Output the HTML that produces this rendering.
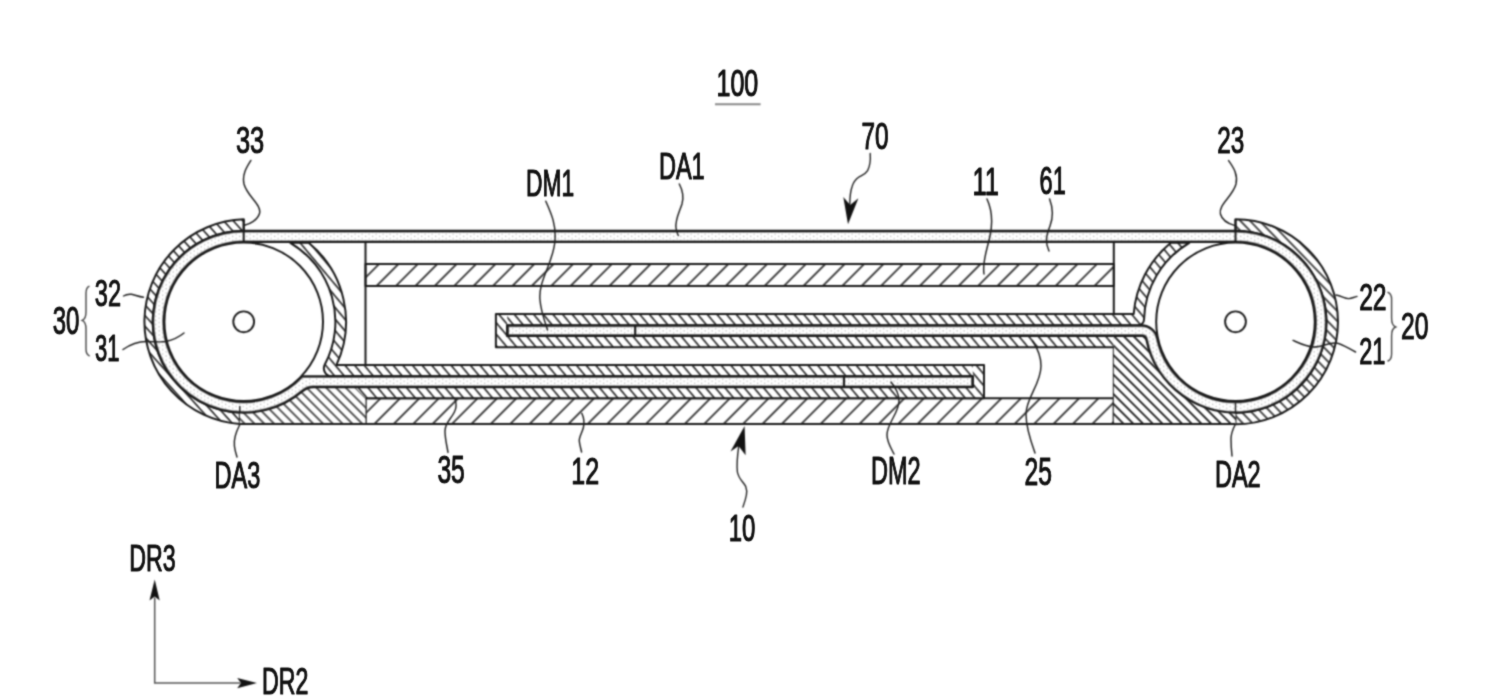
<!DOCTYPE html>
<html><head><meta charset="utf-8"><title>fig</title>
<style>html,body{margin:0;padding:0;background:#fff;}body{width:1492px;height:700px;overflow:hidden;}svg{display:block;}text{font-family:"Liberation Sans",sans-serif;fill:#111;stroke:#111;stroke-width:0.95px;stroke-linejoin:round;vector-effect:non-scaling-stroke;}</style>
</head><body>
<svg width="1492" height="700" viewBox="0 0 1492 700">
<defs>
<pattern id="hs1" patternUnits="userSpaceOnUse" width="7.39" height="10" patternTransform="rotate(-40) translate(6.22 0)"><rect width="7.39" height="10" fill="#fff"/><line x1="1" y1="-1" x2="1" y2="11" stroke="#1a1a1a" stroke-width="1.55"/></pattern>
<pattern id="hs2" patternUnits="userSpaceOnUse" width="7.39" height="10" patternTransform="rotate(-40) translate(1.75 0)"><rect width="7.39" height="10" fill="#fff"/><line x1="1" y1="-1" x2="1" y2="11" stroke="#1a1a1a" stroke-width="1.55"/></pattern>
<pattern id="hs3" patternUnits="userSpaceOnUse" width="7.39" height="10" patternTransform="rotate(-40) translate(6.31 0)"><rect width="7.39" height="10" fill="#fff"/><line x1="1" y1="-1" x2="1" y2="11" stroke="#1a1a1a" stroke-width="1.55"/></pattern>
<pattern id="hs4" patternUnits="userSpaceOnUse" width="7.39" height="10" patternTransform="rotate(-40) translate(2.2 0)"><rect width="7.39" height="10" fill="#fff"/><line x1="1" y1="-1" x2="1" y2="11" stroke="#1a1a1a" stroke-width="1.55"/></pattern>
<pattern id="hcl" patternUnits="userSpaceOnUse" width="7.17" height="10" patternTransform="rotate(-42) translate(3.15 0)"><rect width="7.17" height="10" fill="#fff"/><line x1="1" y1="-1" x2="1" y2="11" stroke="#1a1a1a" stroke-width="1.55"/></pattern>
<pattern id="hcr" patternUnits="userSpaceOnUse" width="6.94" height="10" patternTransform="rotate(-44) translate(2.2 0)"><rect width="6.94" height="10" fill="#fff"/><line x1="1" y1="-1" x2="1" y2="11" stroke="#1a1a1a" stroke-width="1.55"/></pattern>
<pattern id="hbl" patternUnits="userSpaceOnUse" width="6.92" height="10" patternTransform="rotate(-45) translate(3.96 0)"><rect width="6.92" height="10" fill="#fff"/><line x1="1" y1="-1" x2="1" y2="11" stroke="#1a1a1a" stroke-width="1.45"/></pattern>
<pattern id="hbr" patternUnits="userSpaceOnUse" width="6.89" height="10" patternTransform="rotate(-45) translate(4.67 0)"><rect width="6.89" height="10" fill="#fff"/><line x1="1" y1="-1" x2="1" y2="11" stroke="#1a1a1a" stroke-width="1.8"/></pattern>
<pattern id="hp" patternUnits="userSpaceOnUse" width="13.72" height="10" patternTransform="rotate(45) translate(0.98 0)"><rect width="13.72" height="10" fill="#fff"/><line x1="1" y1="-1" x2="1" y2="11" stroke="#1a1a1a" stroke-width="1.6"/></pattern>
<pattern id="dt" patternUnits="userSpaceOnUse" width="7" height="4.2"><rect width="7" height="4.2" fill="#fff"/><rect x="1" y="0.5" width="1.3" height="1.3" fill="#c4c4c4"/><rect x="4.5" y="2.6" width="1.3" height="1.3" fill="#c4c4c4"/></pattern>
<clipPath id="pc"><path d="M507.3 335.9 L1141.93 335.9 A4.5 4.5 0 0 1 1146.34 339.52 A90.9 90.9 0 1 0 1235.5 230.9 L243.7 230.9 A90.9 90.9 0 1 0 302.49 391.13 A17 17 0 0 1 313.48 387.1 L972.8 387.1 L972.8 376.3 L301.99 376.3 A79.8 79.8 0 1 1 243.7 242 L1235.5 242 A79.8 79.8 0 1 1 1157.39 338.13 A16 16 0 0 0 1141.73 325.4 L507.3 325.4 Z"/></clipPath>
<filter id="bl" x="0" y="0" width="100%" height="100%" filterUnits="userSpaceOnUse" color-interpolation-filters="sRGB"><feConvolveMatrix order="5 1" kernelMatrix="0.0152 0.2188 0.5321 0.2188 0.0152" edgeMode="duplicate" preserveAlpha="true" result="h"/><feConvolveMatrix in="h" order="1 5" kernelMatrix="0.0152 0.2188 0.5321 0.2188 0.0152" edgeMode="duplicate" preserveAlpha="true"/></filter>
<filter id="bl2" x="0" y="0" width="100%" height="100%" filterUnits="userSpaceOnUse" color-interpolation-filters="sRGB"><feConvolveMatrix order="3 1" kernelMatrix="0.14 0.72 0.14" edgeMode="duplicate" preserveAlpha="false" result="h"/><feConvolveMatrix in="h" order="1 3" kernelMatrix="0.14 0.72 0.14" edgeMode="duplicate" preserveAlpha="false"/></filter>
</defs>
<g filter="url(#bl)">
<rect width="1492" height="700" fill="#fff"/>
<g fill="none" stroke="#1a1a1a" stroke-width="2.0" stroke-linejoin="round">
<rect x="365.5" y="264" width="748.3" height="22" fill="url(#hp)"/>
<rect x="365.5" y="398.2" width="748.3" height="25.8" fill="url(#hp)"/>
<path d="M365.5 242.8 V364.9 M365.5 398.2 V424"/>
<path d="M1113.8 242.8 V313.9 M1113.8 347.3 V424"/>
<path d="M243.7 219.3 A102.5 102.5 0 0 0 239.8 424 L239.8 412.62 A90.9 90.9 0 0 1 243.7 230.9 Z" fill="url(#hcl)"/>
<path d="M1235.5 219.3 A102.5 102.5 0 0 1 1235.5 424.3 L1235.5 412.7 A90.9 90.9 0 0 0 1235.5 230.9 Z" fill="url(#hcr)"/>
<path d="M239.8 412.62 A90.9 90.9 0 0 0 302.49 391.13 A17 17 0 0 1 313.48 387.1 L365.5 387.1 L365.5 424 L239.8 424 Z" fill="url(#hbl)" stroke="none"/>
<path d="M1235.5 412.7 A90.9 90.9 0 0 1 1146.34 339.52 A4.5 4.5 0 0 0 1141.93 335.9 L1113.8 335.9 L1113.8 424 L1235.5 424 Z" fill="url(#hbr)" stroke="none"/>
<path d="M239.8 424 H1235.5"/>
<path d="M495.9 313.9 L1133.71 313.9 L1133.71 313.9 A102.1 102.1 0 0 1 1170.82 242.8 L1189.33 242.8 A91.5 91.5 0 0 0 1144.03 319.55 A6 6 0 0 1 1138.03 325.4 L507.3 325.4 L507.3 335.9 L1113.8 335.9 L1113.8 347.3 L495.9 347.3 Z" fill="url(#hs1)" stroke="none"/>
<path d="M495.9 313.9 H507.3 V335.9 H1113.8 V347.3 H495.9 Z" fill="url(#hs2)" stroke="none"/>
<path d="M1113.8 347.3 L495.9 347.3 L495.9 313.9 L1133.71 313.9 A102.1 102.1 0 0 1 1170.82 242.8 L1189.33 242.8 A91.5 91.5 0 0 0 1144.03 319.55 A6 6 0 0 1 1138.03 325.4 L507.3 325.4 L507.3 335.9 L1113.8 335.9"/>
<path d="M984 364.9 L336.48 364.9 A102.3 102.3 0 0 0 308.69 242.8 L290.26 242.8 A91.7 91.7 0 0 1 324.82 364.57 A8 8 0 0 0 331.89 376.3 L972.8 376.3 L972.8 387.1 L365.5 387.1 L365.5 398.2 L984 398.2 Z" fill="url(#hs3)" stroke="none"/>
<path d="M984 364.9 H972.8 V387.1 H365.5 V398.2 H984 Z" fill="url(#hs4)" stroke="none"/>
<path d="M355 387.1 L366 387.1 L366 398.2 Z" fill="url(#hs4)" stroke="none"/>
<path d="M365.5 398.2 L984 398.2 L984 364.9 L336.48 364.9 A102.3 102.3 0 0 0 308.69 242.8 L290.26 242.8 A91.7 91.7 0 0 1 324.82 364.57 A8 8 0 0 0 331.89 376.3 L972.8 376.3 L972.8 387.1 L365.5 387.1"/>
</g>
<path d="M507.3 335.9 L1141.93 335.9 A4.5 4.5 0 0 1 1146.34 339.52 A90.9 90.9 0 1 0 1235.5 230.9 L243.7 230.9 A90.9 90.9 0 1 0 302.49 391.13 A17 17 0 0 1 313.48 387.1 L972.8 387.1 L972.8 376.3 L301.99 376.3 A79.8 79.8 0 1 1 243.7 242 L1235.5 242 A79.8 79.8 0 1 1 1157.39 338.13 A16 16 0 0 0 1141.73 325.4 L507.3 325.4 Z" fill="url(#dt)" stroke="none"/>
<path d="M507.3 335.9 L1141.93 335.9 A4.5 4.5 0 0 1 1146.34 339.52 A90.9 90.9 0 1 0 1235.5 230.9 L243.7 230.9 A90.9 90.9 0 1 0 302.49 391.13 A17 17 0 0 1 313.48 387.1 L972.8 387.1 L972.8 376.3 L301.99 376.3 A79.8 79.8 0 1 1 243.7 242 L1235.5 242 A79.8 79.8 0 1 1 1157.39 338.13 A16 16 0 0 0 1141.73 325.4 L507.3 325.4 Z" fill="none" stroke="#8a8a8a" stroke-width="3.6" stroke-linejoin="round" clip-path="url(#pc)"/>
<path d="M507.3 335.9 L1141.93 335.9 A4.5 4.5 0 0 1 1146.34 339.52 A90.9 90.9 0 1 0 1235.5 230.9 L243.7 230.9 A90.9 90.9 0 1 0 302.49 391.13 A17 17 0 0 1 313.48 387.1 L972.8 387.1 L972.8 376.3 L301.99 376.3 A79.8 79.8 0 1 1 243.7 242 L1235.5 242 A79.8 79.8 0 1 1 1157.39 338.13 A16 16 0 0 0 1141.73 325.4 L507.3 325.4 Z" fill="none" stroke="#1a1a1a" stroke-width="2.1" stroke-linejoin="round"/>
<g fill="none" stroke="#1a1a1a" stroke-width="2.0">
<path d="M507.3 325.4 V335.9 M972.8 376.3 V387.1"/>
<path d="M635.2 325.4 V335.9" stroke-width="2.2"/>
<path d="M844 376.3 V387.1" stroke-width="2.2"/>
<circle cx="243.7" cy="321.8" r="79.3" fill="#fff"/>
<circle cx="243.7" cy="321.8" r="10.4" fill="#fff" stroke-width="1.9"/>
<circle cx="1235.5" cy="321.8" r="79.3" fill="#fff"/>
<circle cx="1235.5" cy="321.8" r="10.4" fill="#fff" stroke-width="1.9"/>
<path d="M243.7 219.3 V242.5 M1235.5 219.3 V242.5"/>
<path d="M239.8 406.1 V412.62 M1235.5 403.1 V412.7" stroke-width="1.4"/>
</g>
<g fill="none" stroke="#1e1e1e" stroke-width="1.45" stroke-linecap="round">
<path d="M250.9 160.4 C246 168 242 175 244 184 C247 196 262 205 259.5 213.5 C257.5 220 250 224 244.5 225.3"/>
<path d="M545.8 201.2 C552 215 556 225 555 240 C554 262 538 280 540 300 C541 312 545 322 547.5 330"/>
<path d="M679.3 184 C683 191 684 197 682 204 C679 213 675 220 676 228 C676.5 231 677 233 678.3 235.5"/>
<path d="M987 199 C992 210 993 222 990 236 C987 250 982 262 984 274"/>
<path d="M1049.6 199 C1053 208 1053 218 1050 226 C1046 236 1045 242 1049 251"/>
<path d="M1228.6 160.6 C1234 168 1238 175 1236 184 C1233 196 1218 205 1220.4 214 C1222 220 1229 224 1235 225.6"/>
<path d="M1336 295 C1342 296 1345 299 1349 298.6 C1352 298.3 1354 297 1357 296.4"/>
<path d="M1293 340.4 C1301 344 1307 347 1314 347 C1323 347 1329 342 1336 343 C1343 344 1349 349 1355.6 352"/>
<path d="M123.5 296 C126 294.5 129 294 131.5 294.3 C135 294.8 138 296.5 143.5 297.2"/>
<path d="M123 349.5 C131 344 138 341.5 146 341.5 C154 341.5 160 342.5 166 341.5 C173 340 179 337 184 333"/>
<path d="M239.6 425 C236 432 233.5 439 234.4 446 C235 451 236 454 237 457"/>
<path d="M455 399 C457 405 456 409 454.4 412 C451 419 445 423 445 431 C445 439 447 446 448 452.4"/>
<path d="M581.8 413.3 C584 418 584.5 423 583.4 427.5 C582 433 579 437 579.3 441 C579.6 445 581 449 581.6 452"/>
<path d="M891 382 C896 388 899 394 899 401 C899 413 887 423 887 435 C887 442 891 448 894 454"/>
<path d="M1032.5 341 C1038 349 1041 357 1041 366 C1041 384 1026 398 1026 414 C1026 428 1031 442 1035 453"/>
<path d="M1235 425 C1232.5 430 1231 434 1231 439 C1231 445 1231.5 451 1232 456"/>
<path d="M870.2 153.4 C870.6 159 870.6 165 867.6 170.7 C865 175 861 175.5 858.6 177.2 C854.5 180 853.2 183 852.2 186.2 C850.5 191 849.8 196 849.8 204.5" stroke-width="1.4" stroke="#222"/>
<path d="M738.8 445.7 C737.5 455 736.5 465 737.4 472 C738.6 479 743.5 482 745.7 486.4 C747 490 747 493 746.4 495 C745.5 500 744 504 742.9 507.1" stroke-width="1.4" stroke="#222"/>
<path d="M89 286.3 C86.3 287.6 86 289.5 86 293 L86 312 C86 317 84.5 319.5 82.2 320.4 C84.5 321.3 86 324 86 329 L86 349 C86 352.5 86.5 354.5 89.3 355.8" stroke-width="1.4" stroke="#444"/>
<path d="M1388 292.3 C1391 293.6 1391.6 295.5 1391.6 299 L1391.6 318 C1391.6 323 1393 326 1395.6 327 C1393 328 1391.6 331 1391.6 336 L1391.6 354 C1391.6 357.5 1391 359.7 1388 361" stroke-width="1.4" stroke="#444"/>
<path d="M154.7 598 V683 H240" stroke="#555" stroke-width="1.5"/>
</g>
<g fill="#111">
<path d="M154.7 579.5 L159.7 600.5 L154.7 596.5 L149.5 600.5 Z"/>
<path d="M257 683 L237.2 688.2 L241 683 L237.2 678 Z"/>
<path d="M848 224.3 L843.3 197 L850.2 205 L858.4 198.3 Z"/>
<path d="M744.6 426 L730.5 451.6 L738.6 446 L745.6 455.2 Z"/>
</g>
<path d="M715 104.2 H760.6" stroke="#888" stroke-width="2" fill="none"/>
</g>
<g filter="url(#bl2)">
<text transform="translate(716.48 95.86) scale(0.66 0.96)" font-size="38">100</text>
<text transform="translate(235.96 152.56) scale(0.67 0.97)" font-size="38">33</text>
<text transform="translate(526.05 196.32) scale(0.6 0.96)" font-size="38">DM1</text>
<text transform="translate(658.89 178.72) scale(0.62 0.97)" font-size="38">DA1</text>
<text transform="translate(861.56 149.36) scale(0.64 0.95)" font-size="38">70</text>
<text transform="translate(972.45 194.82) scale(0.67 1.01)" font-size="38">11</text>
<text transform="translate(1039.59 194.44) scale(0.62 1)" font-size="38">61</text>
<text transform="translate(1217.16 152.85) scale(0.64 0.99)" font-size="38">23</text>
<text transform="translate(1359.14 309.62) scale(0.65 0.97)" font-size="38">22</text>
<text transform="translate(1359.2 364.22) scale(0.62 0.99)" font-size="38">21</text>
<text transform="translate(1400.93 339.25) scale(0.65 0.98)" font-size="38">20</text>
<text transform="translate(94.83 306.45) scale(0.62 0.98)" font-size="38">32</text>
<text transform="translate(52.71 334.15) scale(0.63 1)" font-size="38">30</text>
<text transform="translate(94.89 360.66) scale(0.58 0.97)" font-size="38">31</text>
<text transform="translate(214.48 487.85) scale(0.62 0.98)" font-size="38">DA3</text>
<text transform="translate(437.39 483.25) scale(0.65 1)" font-size="38">35</text>
<text transform="translate(571.29 483.82) scale(0.66 0.99)" font-size="38">12</text>
<text transform="translate(870.88 483.62) scale(0.62 1.01)" font-size="38">DM2</text>
<text transform="translate(1024.55 484.85) scale(0.65 1)" font-size="38">25</text>
<text transform="translate(1214.89 487.22) scale(0.62 0.99)" font-size="38">DA2</text>
<text transform="translate(728.67 540.55) scale(0.63 0.98)" font-size="38">10</text>
<text transform="translate(129.31 571.36) scale(0.61 0.96)" font-size="38">DR3</text>
<text transform="translate(262.11 694.42) scale(0.61 0.95)" font-size="38">DR2</text>
</g>
</svg></body></html>
